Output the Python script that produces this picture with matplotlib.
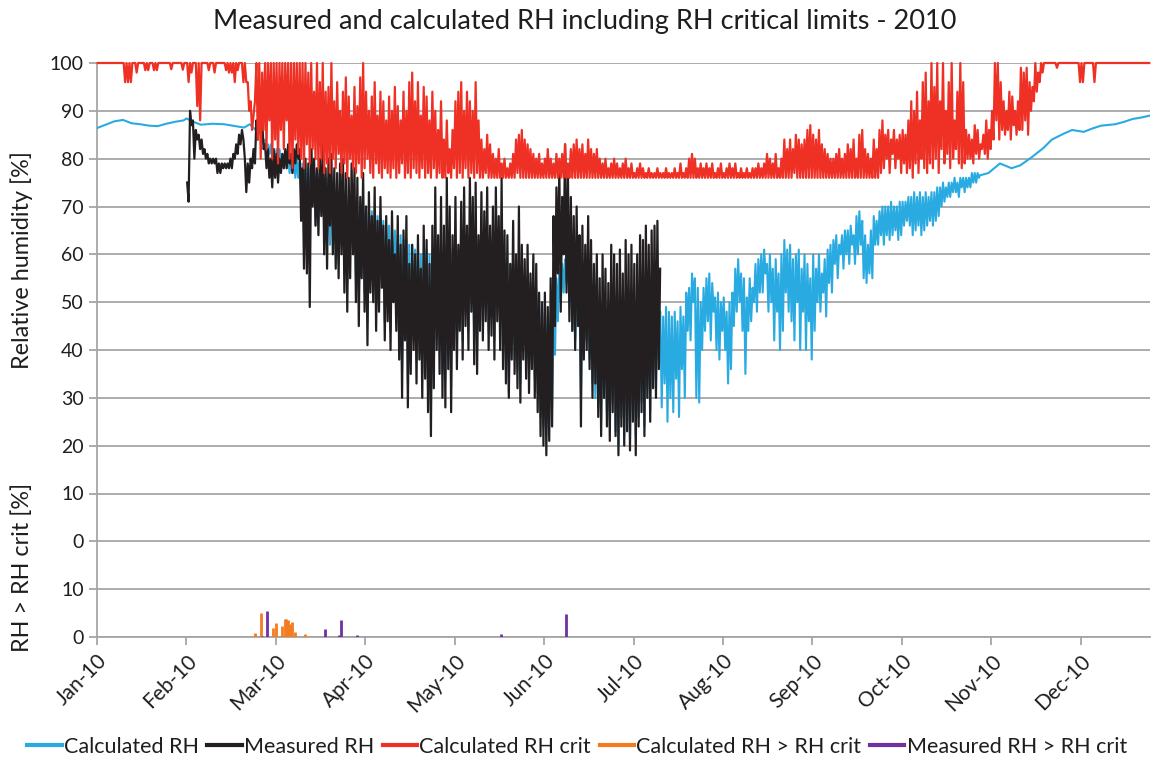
import numpy as np
import matplotlib
matplotlib.use('Agg')
import matplotlib.pyplot as plt
from matplotlib.lines import Line2D

plt.rcParams['font.family'] = ['Lato', 'DejaVu Sans']

# ---- data (day of year 2010, 0 = 1 Jan) ----
month_labels = ['Jan-10', 'Feb-10', 'Mar-10', 'Apr-10', 'May-10', 'Jun-10',
                'Jul-10', 'Aug-10', 'Sep-10', 'Oct-10', 'Nov-10', 'Dec-10']

# calculated RH, smooth start (Jan-Feb)
calc_days_a = [0, 3, 6, 9, 12, 15, 18, 21, 24, 27, 30, 31, 33, 36, 40, 44, 48, 51, 53, 55, 56.9]
calc_rh_a = [86.4, 87.1, 87.8, 88.1, 87.4, 87.2, 86.9, 86.8, 87.3, 87.7, 88.0, 88.4, 87.8, 87.1,
             87.3, 87.2, 86.8, 86.5, 87.2, 86.0, 85.2]
# calculated RH, daily night high / day low from day 57 to day 305
calc_first_day = 57
calc_hi = [85, 84, 83,
           83, 82, 82, 82, 81, 81, 81, 80, 80, 80,
           80, 79, 79, 78, 78, 78, 77, 77, 76, 76,
           76, 75, 75, 74, 74, 73, 73, 72, 72, 72,
           71, 71, 70, 70, 69, 69, 68, 68, 67, 67,
           66, 66, 65, 65, 64, 64, 63, 63, 62, 62,
           61, 61, 60, 60, 61, 60, 59, 62, 61, 60,
           60, 61, 60, 61, 62, 61, 62, 63, 62, 63,
           62, 63, 63, 64, 63, 64, 65, 63, 62, 61,
           60, 59, 58, 58, 57, 57, 56, 56, 55, 55,
           54, 53, 53, 50, 49, 48, 47, 48, 52, 55,
           57, 58, 59, 58, 56, 53, 52, 50, 50, 49,
           48, 48, 47, 47, 46, 46, 46, 45, 45, 45,
           45, 44, 45, 44, 46, 45, 46, 46, 47, 46,
           47, 48, 47, 48, 49, 48, 47, 49, 48, 47,
           48, 46, 49, 47, 52, 53, 56, 55, 53, 50,
           53, 55, 56, 54, 51, 52, 50, 51, 48, 50,
           52, 57, 59, 56, 55, 51, 55, 53, 58, 59,
           60, 61, 58, 60, 57, 59, 56, 60, 63, 61,
           62, 59, 60, 61, 57, 60, 58, 55, 60, 57,
           60, 56, 59, 61, 62, 63, 64, 62, 64, 65,
           65, 66, 64, 68, 69, 67, 64, 62, 65, 68,
           67, 69, 70, 70, 70, 71, 70, 70, 71, 71,
           71, 72, 72, 73, 72, 73, 72, 73, 72, 73,
           73, 74, 74, 75, 74, 75, 75, 76, 75, 76,
           76, 76, 76, 77, 77, 77]
calc_lo = [83, 82, 81,
           80, 80, 79, 79, 78, 78, 77, 77, 76, 76,
           72, 68, 66, 70, 72, 66, 70, 74, 68, 64,
           62, 66, 60, 58, 64, 56, 54, 60, 62, 55,
           50, 58, 52, 46, 55, 53, 48, 52, 56, 46,
           50, 44, 53, 48, 42, 36, 46, 33, 40, 44,
           38, 42, 35, 38, 32, 28, 36, 44, 40, 35,
           34, 40, 32, 44, 40, 48, 42, 48, 44, 50,
           42, 40, 48, 46, 50, 44, 47, 42, 50, 45,
           40, 38, 31, 42, 38, 36, 33, 42, 38, 35,
           40, 34, 31, 26, 24, 22, 24, 28, 39, 46,
           50, 52, 54, 50, 44, 42, 46, 30, 40, 42,
           38, 33, 30, 28, 25, 32, 27, 24, 29, 23,
           20, 26, 22, 25, 21, 27, 22, 26, 29, 24,
           32, 27, 34, 32, 38, 28, 33, 25, 30, 27,
           34, 26, 36, 30, 44, 42, 50, 30, 29, 40,
           44, 46, 42, 48, 40, 38, 44, 40, 33, 36,
           45, 48, 50, 44, 35, 44, 46, 50, 48, 52,
           52, 56, 48, 50, 42, 48, 40, 44, 52, 48,
           46, 42, 50, 40, 48, 40, 46, 38, 44, 50,
           48, 52, 47, 54, 52, 58, 55, 60, 57, 60,
           58, 62, 58, 60, 62, 55, 54, 56, 55, 62,
           62, 64, 62, 64, 63, 64, 65, 63, 64, 66,
           67, 66, 64, 65, 66, 64, 65, 66, 67, 66,
           67, 68, 70, 71, 72, 72, 73, 73, 72, 74,
           73, 74, 74, 75, 75, 76]
# calculated RH, smooth end (Nov-Dec)
calc_days_b = [306, 309, 313, 317, 320, 324, 328, 331, 335, 338, 342, 345, 348, 353, 356, 359, 362, 364.9]
calc_rh_b = [76.5, 77.0, 79.0, 78.0, 78.6, 80.3, 82.2, 84.0, 85.2, 86.0, 85.6, 86.3, 86.9, 87.2,
             87.7, 88.3, 88.6, 89.0]

# measured RH, daily high / low from day 31 to day 194, last reading day 195
meas_first_day = 31
meas_hi = [75, 90, 88, 86, 85, 84, 82, 81, 80,
           80, 80, 79, 79, 79, 79, 80, 81, 83, 85,
           86, 80, 79, 80, 82, 88, 89, 88, 83, 82,
           80, 82, 81, 80, 81, 82, 83, 81, 82, 83,
           82, 78, 80, 79, 82, 80, 78, 80, 83, 78,
           80, 81, 78, 77, 79, 80, 77, 76, 79, 78,
           76, 72, 77, 70, 73, 68, 74, 67, 72, 66,
           68, 63, 69, 60, 68, 62, 65, 68, 58, 62,
           60, 64, 57, 66, 63, 58, 66, 74, 64, 72,
           66, 76, 70, 64, 72, 62, 71, 74, 66, 76,
           72, 75, 64, 73, 69, 74, 66, 70, 74, 68,
           76, 65, 64, 58, 67, 60, 70, 62, 59, 62,
           56, 60, 58, 52, 50, 52, 49, 55, 68, 74,
           78, 72, 83, 76, 72, 68, 70, 64, 66, 62,
           68, 63, 58, 60, 55, 60, 57, 54, 62, 60,
           58, 61, 56, 63, 60, 62, 58, 60, 64, 63,
           66, 62, 65, 66, 67]
meas_lo = [71, 87, 80, 84, 82, 81, 80, 79, 79,
           79, 77, 77, 78, 78, 78, 78, 80, 81, 83,
           84, 73, 75, 78, 79, 84, 86, 82, 78, 76,
           74, 76, 75, 77, 78, 78, 79, 77, 79, 80,
           67, 57, 56, 49, 70, 66, 64, 68, 60, 57,
           66, 60, 57, 55, 60, 52, 48, 55, 60, 50,
           45, 55, 48, 41, 52, 50, 44, 48, 53, 42,
           46, 40, 50, 44, 38, 30, 42, 28, 35, 40,
           33, 38, 30, 34, 27, 22, 32, 40, 35, 30,
           28, 36, 27, 40, 36, 44, 38, 45, 40, 48,
           37, 35, 44, 42, 46, 40, 43, 38, 46, 40,
           36, 33, 30, 38, 35, 32, 29, 38, 34, 31,
           36, 30, 27, 22, 20, 18, 21, 24, 45, 56,
           48, 60, 52, 46, 44, 40, 45, 24, 38, 40,
           36, 30, 33, 26, 22, 30, 24, 21, 27, 22,
           18, 24, 20, 23, 19, 25, 18, 24, 27, 22,
           30, 25, 32, 30, 36]
meas_last_day = 195.2
meas_last_rh = 57

# calculated RH crit, daily high / low for the whole year
crit_hi = [100, 100, 100, 100, 100, 100, 100, 100, 100, 100,
           100, 100, 100, 100, 100, 100, 100, 100, 100, 100,
           100, 100, 100, 100, 100, 100, 100, 100, 100, 100,
           100, 100, 100, 100, 100, 100, 100, 100, 100, 100,
           100, 100, 100, 100, 100, 100, 100, 100, 100, 100,
           100, 100, 96, 92, 89, 100, 100, 98, 100, 100,
           100, 100, 100, 100, 100, 100, 100, 100, 100, 100,
           100, 100, 100, 98, 100, 94, 100, 96, 100, 94,
           95, 100, 92, 96, 90, 94, 97, 93, 89, 95,
           91, 97, 100, 94, 90, 93, 96, 89, 94, 92,
           88, 93, 90, 95, 91, 88, 94, 90, 96, 98,
           92, 96, 89, 95, 93, 88, 94, 90, 86, 92,
           84, 88, 82, 86, 92, 94, 96, 90, 94, 92,
           90, 96, 88, 84, 82, 85, 83, 81, 80, 82,
           79, 80, 78, 79, 81, 84, 85, 86, 84, 83,
           82, 81, 80, 81, 79, 80, 82, 80, 79, 81,
           80, 81, 83, 79, 82, 83, 84, 82, 83, 81,
           84, 82, 81, 82, 80, 79, 80, 78, 79, 80,
           79, 78, 79, 80, 78, 79, 77, 78, 79, 78,
           77, 78, 77, 77, 78, 77, 77, 78, 77, 77,
           78, 77, 79, 77, 78, 80, 81, 80, 78, 79,
           78, 79, 78, 79, 77, 78, 79, 77, 78, 79,
           78, 79, 77, 78, 77, 78, 77, 78, 78, 79,
           78, 79, 81, 80, 79, 81, 78, 80, 84, 82,
           84, 82, 85, 84, 83, 84, 86, 87, 85, 84,
           86, 83, 82, 81, 80, 80, 81, 82, 80, 81,
           83, 82, 84, 80, 85, 86, 82, 81, 80, 84,
           82, 86, 88, 85, 86, 84, 86, 84, 85, 86,
           85, 88, 92, 90, 94, 88, 96, 98, 92, 100,
           95, 100, 92, 100, 90, 96, 100, 88, 94, 100,
           96, 86, 85, 84, 87, 86, 83, 85, 88, 86,
           90, 100, 100, 96, 92, 90, 94, 93, 90, 92,
           99, 98, 99, 96, 95, 100, 98, 100, 100, 100,
           100, 100, 100, 100, 100, 100, 100, 100, 100, 100,
           100, 100, 100, 100, 100, 100, 100, 100, 100, 100,
           100, 100, 100, 100, 100, 100, 100, 100, 100, 100,
           100, 100, 100, 100, 100]
crit_lo = [100, 100, 100, 100, 100, 100, 100, 100, 100, 96,
           96, 96, 100, 98, 100, 100, 98.5, 98.5, 100, 98.5,
           98.5, 100, 100, 100, 100, 98.7, 100, 100, 100, 98.6,
           100, 96, 98, 100, 91, 88, 100, 100, 98.5, 100,
           98, 100, 100, 100, 98.5, 98, 98, 96, 98.5, 100,
           96, 96, 90, 86, 92, 84, 80, 86, 82, 88,
           80, 84, 79, 86, 82, 88, 80, 78, 84, 81,
           80, 78, 83, 79, 82, 80, 78, 80, 77, 79,
           77, 80, 78, 81, 77, 79, 76, 80, 78, 77,
           79, 76, 78, 80, 77, 76, 79, 77, 76, 78,
           77, 76, 78, 76, 77, 79, 76, 77, 76, 78,
           77, 76, 78, 76, 77, 76, 78, 76, 77, 76,
           76, 77, 76, 78, 76, 77, 76, 78, 76, 77,
           76, 77, 76, 76, 77, 76, 76, 76, 76, 76,
           76, 76, 76, 76, 76, 77, 76, 76, 76, 76,
           76, 76, 76, 76, 76, 76, 76, 76, 76, 76,
           76, 76, 76, 76, 76, 76, 76, 76, 76, 76,
           76, 76, 76, 76, 76, 76, 76, 76, 76, 76,
           76, 76, 76, 76, 76, 76, 76, 76, 76, 76,
           76, 76, 76, 76, 76, 76, 76, 76, 76, 76,
           76, 76, 76, 76, 76, 76, 76, 76, 76, 76,
           76, 76, 76, 76, 76, 76, 76, 76, 76, 76,
           76, 76, 76, 76, 76, 76, 76, 76, 76, 76,
           76, 76, 76, 76, 76, 76, 76, 76, 76, 76,
           76, 77, 76, 76, 76, 76, 76, 76, 76, 76,
           76, 76, 76, 76, 76, 76, 76, 76, 76, 76,
           76, 76, 76, 76, 76, 76, 76, 76, 76, 76,
           76, 77, 78, 80, 77, 81, 78, 80, 77, 79,
           77, 78, 76, 79, 77, 80, 78, 77, 79, 78,
           80, 77, 82, 79, 81, 78, 80, 82, 79, 78,
           79, 80, 80, 79, 81, 80, 82, 81, 80, 82,
           84, 88, 84, 86, 85, 86, 84, 87, 85, 86,
           86, 88, 85, 90, 92, 94, 96, 98, 100, 100,
           100, 100, 99, 100, 100, 100, 100, 100, 100, 100,
           96, 96, 100, 100, 100, 96, 100, 100, 100, 100,
           100, 100, 100, 100, 100, 100, 100, 100, 100, 100,
           100, 100, 100, 100, 100]

# exceedances (lower panel, RH - RH crit in %)
calc_exc_days = [54.7, 57.0, 60.9, 61.9, 64.0, 65.0, 65.6, 66.1, 66.9, 67.7, 68.7, 72.0]
calc_exc = [0.9, 5.0, 1.9, 2.9, 2.4, 3.7, 3.7, 3.6, 2.8, 3.2, 1.1, 0.6]
meas_exc_days = [57.2, 59.1, 78.9, 83.8, 84.7, 90.0, 140.0, 162.6]
meas_exc = [0.2, 5.4, 1.7, 0.5, 3.5, 0.4, 0.6, 4.9]

# ---- helpers ----
def zigzag(first_day, hi, lo):
    n = len(hi)
    day = first_day + np.arange(n)
    t = np.empty(2 * n)
    v = np.empty(2 * n)
    t[0::2] = day + 0.25
    t[1::2] = day + 0.75
    v[0::2] = hi
    v[1::2] = lo
    return t, v

c_blue = '#29abe2'
c_black = '#231f20'
c_red = '#ee3124'
c_orange = '#f47b20'
c_purple = '#7030a0'
c_grid = '#a6a6a6'
c_text = '#1e1e1e'

OFFSET = -20  # lower panel sits on the -20 line

t_c, v_c = zigzag(calc_first_day, calc_hi, calc_lo)
calc_t = np.concatenate([calc_days_a, t_c, calc_days_b])
calc_v = np.concatenate([calc_rh_a, v_c, calc_rh_b])

t_m, v_m = zigzag(meas_first_day, meas_hi, meas_lo)
meas_t = np.append(t_m, meas_last_day)
meas_v = np.append(v_m, meas_last_rh)

crit_t, crit_v = zigzag(0, crit_hi, crit_lo)

# ---- figure ----
fig = plt.figure(figsize=(11.54, 7.63), dpi=100)
ax = fig.add_axes([97 / 1154, 1 - 637 / 763, (1150 - 97) / 1154, (637 - 63) / 763])

ax.plot(calc_t, calc_v, color=c_blue, lw=1.5, zorder=3)
ax.plot(meas_t, meas_v, color=c_black, lw=1.6, zorder=4)
ax.plot(crit_t, crit_v, color=c_red, lw=1.6, zorder=5, clip_on=False)
ax.vlines(calc_exc_days, OFFSET, OFFSET + np.array(calc_exc), color=c_orange, lw=2, zorder=6)
ax.vlines(meas_exc_days, OFFSET, OFFSET + np.array(meas_exc), color=c_purple, lw=2, zorder=7)

ax.set_xlim(0, 365)
ax.set_ylim(-20, 100)
yt = np.arange(-20, 101, 10)
ax.set_yticks(yt)
ax.set_yticklabels([str(v + 20) if v < 0 else str(v) for v in yt])
tick_days = np.arange(0, 365, 31)
ax.set_xticks(tick_days)
ax.set_xticklabels(month_labels, rotation=45, ha='right', rotation_mode='anchor')

ax.yaxis.grid(True, color=c_grid, lw=1.3)
ax.set_axisbelow(True)
for s in ['top', 'right']:
    ax.spines[s].set_visible(False)
for s in ['left', 'bottom']:
    ax.spines[s].set_color(c_grid)
    ax.spines[s].set_linewidth(1.3)
ax.tick_params(axis='both', colors=c_grid, length=6, width=1.3, labelsize=14, labelcolor=c_text)
ax.tick_params(axis='x', pad=4, labelsize=15)

fig.text(0.507, 1 - 22 / 763, 'Measured and calculated RH including RH critical limits - 2010',
         ha='center', va='center', fontsize=19.5, color=c_text)
fig.text(22 / 1154, 1 - 260 / 763, 'Relative humidity [%]', rotation=90,
         ha='center', va='center', fontsize=16.8, color=c_text)
fig.text(22 / 1154, 1 - 567 / 763, 'RH > RH crit [%]', rotation=90,
         ha='center', va='center', fontsize=16.8, color=c_text)

handles = [Line2D([0], [0], color=c, lw=3) for c in [c_blue, c_black, c_red, c_orange, c_purple]]
labels = ['Calculated RH', 'Measured RH', 'Calculated RH crit',
          'Calculated RH > RH crit', 'Measured RH > RH crit']
fig.legend(handles, labels, loc='center', bbox_to_anchor=(0.5, 1 - 747 / 763), ncol=5,
           frameon=False, fontsize=15.5, handlelength=1.6, handletextpad=0.1,
           columnspacing=0.4, labelcolor=c_text)

fig.savefig('out.png', dpi=100)
